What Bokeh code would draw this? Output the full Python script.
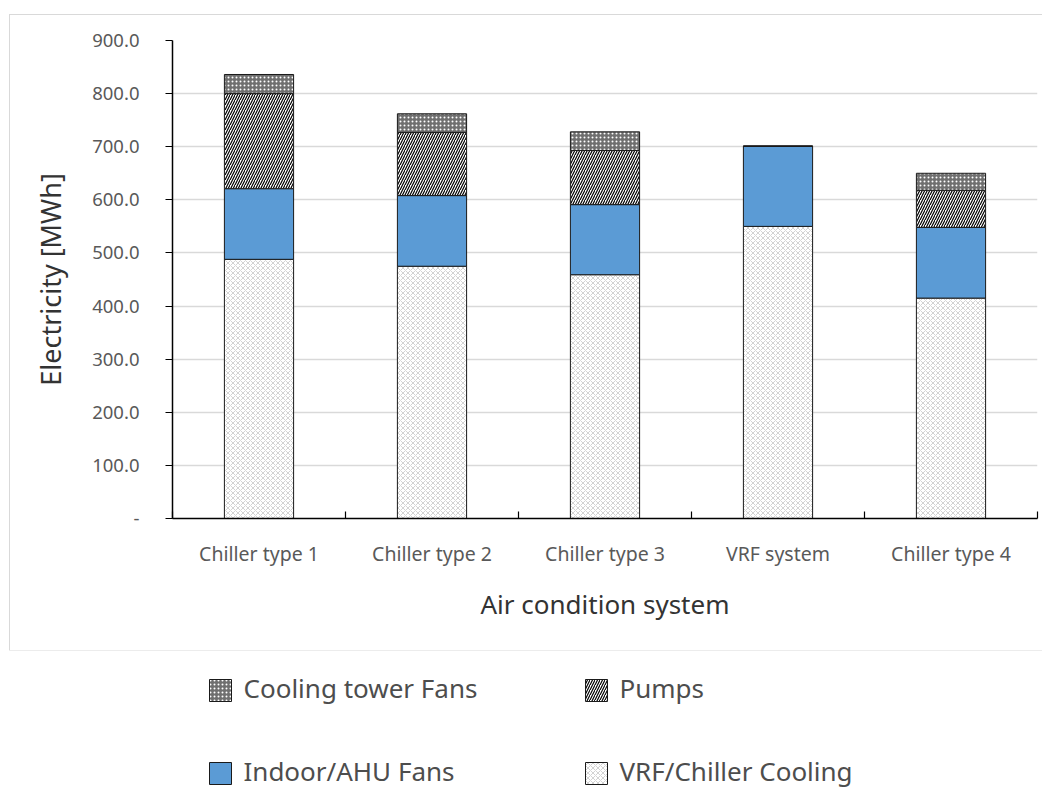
from bokeh.plotting import figure
from bokeh.layouts import column
from bokeh.models import (Range1d, FixedTicker, SingleIntervalTicker,
                          CustomJSTickFormatter, ColumnDataSource)
from bokeh.core.properties import value
from bokeh.embed import file_html
from bokeh.resources import INLINE
import numpy as np

# Annual electricity use per air-conditioning system [MWh]
systems = ["Chiller type 1", "Chiller type 2", "Chiller type 3", "VRF system", "Chiller type 4"]
vrf_chiller_cooling = [488, 475, 459, 550, 415]
indoor_ahu_fans = [133, 133, 132, 151, 133]
pumps = [179, 119, 102, 0, 70]
cooling_tower_fans = [36, 35, 35, 0, 32]

series_names = ["VRF/Chiller Cooling", "Indoor/AHU Fans", "Pumps", "Cooling tower Fans"]
series_values = [vrf_chiller_cooling, indoor_ahu_fans, pumps, cooling_tower_fans]

FONT = "Noto Sans"

# fill / hatch style for each component
styles = {
    "VRF/Chiller Cooling": dict(fill_color="white", hatch_pattern="diagonal_cross",
                                hatch_color="#a6a6a6", hatch_scale=5, hatch_weight=0.5),
    "Indoor/AHU Fans": dict(fill_color="#5b9bd5"),
    "Pumps": dict(fill_color="white", hatch_pattern="right_diagonal_line",
                  hatch_color="black", hatch_scale=5, hatch_weight=1.2),
    "Cooling tower Fans": dict(fill_color="#6f6f6f", hatch_pattern="dot",
                               hatch_color="white", hatch_scale=4, hatch_weight=1.2),
}

x = np.arange(len(systems)) + 0.5

p = figure(width=1032, height=635, output_backend="svg", toolbar_location=None,
           x_range=Range1d(0, len(systems)), y_range=Range1d(0, 900),
           min_border_left=162, min_border_right=5, min_border_top=25, min_border_bottom=132)
p.margin = (15, 0, 0, 10)
p.styles = {"outline": "1px solid #d9d9d9"}
p.outline_line_color = None
p.background_fill_color = "white"
p.frame_align = False

bottom = np.zeros(len(systems))
for name, vals in zip(series_names, series_values):
    vals = np.asarray(vals, dtype=float)
    src = ColumnDataSource(dict(x=x, top=bottom + vals, bottom=bottom))
    p.vbar(x="x", top="top", bottom="bottom", width=0.4, source=src,
           line_color="#1a1a1a", line_width=1, **styles[name])
    bottom = bottom + vals

# y axis
p.yaxis.ticker = SingleIntervalTicker(interval=100)
p.yaxis.formatter = CustomJSTickFormatter(code='return tick == 0 ? "-" : tick.toFixed(1);')
p.yaxis.axis_label = "Electricity [MWh]"
p.yaxis.major_tick_out = 7
p.yaxis.major_tick_in = 0
p.yaxis.minor_tick_out = 0
p.yaxis.minor_tick_in = 0
p.yaxis.major_label_standoff = 26
p.yaxis.axis_label_standoff = 20

# x axis: category labels at bar centres, tick marks between categories
p.xaxis.ticker = FixedTicker(ticks=list(x), minor_ticks=list(range(len(systems) + 1)))
p.xaxis.formatter = CustomJSTickFormatter(args=dict(names=systems),
                                          code="return names[Math.floor(tick)];")
p.xaxis.axis_label = "Air condition system"
p.xaxis.major_tick_out = 0
p.xaxis.major_tick_in = 0
p.xaxis.minor_tick_in = 7
p.xaxis.minor_tick_out = 0
p.xaxis.major_label_standoff = 21
p.xaxis.axis_label_standoff = 16

for ax in (p.xaxis, p.yaxis):
    ax.axis_line_color = "black"
    ax.axis_line_width = 1.5
    ax.major_tick_line_color = "black"
    ax.minor_tick_line_color = "black"
    ax.major_tick_line_width = 1.2
    ax.minor_tick_line_width = 1.2
    ax.major_label_text_font = FONT
    ax.major_label_text_color = "#595959"
    ax.axis_label_text_font = FONT
    ax.axis_label_text_font_style = "normal"
    ax.axis_label_text_color = "#333333"
    ax.axis_label_text_font_size = "26px"
p.xaxis.major_label_text_font_size = "19.5px"
p.yaxis.major_label_text_font_size = "18.5px"
p.yaxis.axis_label_text_font_size = "27px"

p.xgrid.grid_line_color = None
p.ygrid.grid_line_color = "#d9d9d9"
p.ygrid.grid_line_width = 1.5
p.ygrid.ticker = SingleIntervalTicker(interval=100)

# legend strip below the chart box
leg = figure(width=1042, height=137, output_backend="svg", toolbar_location=None,
             x_range=Range1d(0, 1042), y_range=Range1d(137, 0),
             min_border=0, x_axis_type=None, y_axis_type=None)
leg.outline_line_color = None
leg.grid.visible = False
leg.frame_align = False

legend_order = ["Cooling tower Fans", "Pumps", "Indoor/AHU Fans", "VRF/Chiller Cooling"]
col_x = [209, 585]
row_y = [40, 123]
for i, name in enumerate(legend_order):
    cx = col_x[i % 2]
    cy = row_y[i // 2]
    leg.quad(left=[cx], right=[cx + 22], top=[cy - 11], bottom=[cy + 11],
             line_color="#1a1a1a", line_width=1, **styles[name])
    leg.text(x=[cx + 34], y=[cy - 3], text=[name], text_font=value(FONT),
             text_font_size="26px", text_color="#4d4d4d", text_baseline="middle")

layout = column(p, leg, spacing=0)
open("out.html", "w").write(file_html(layout, INLINE))
